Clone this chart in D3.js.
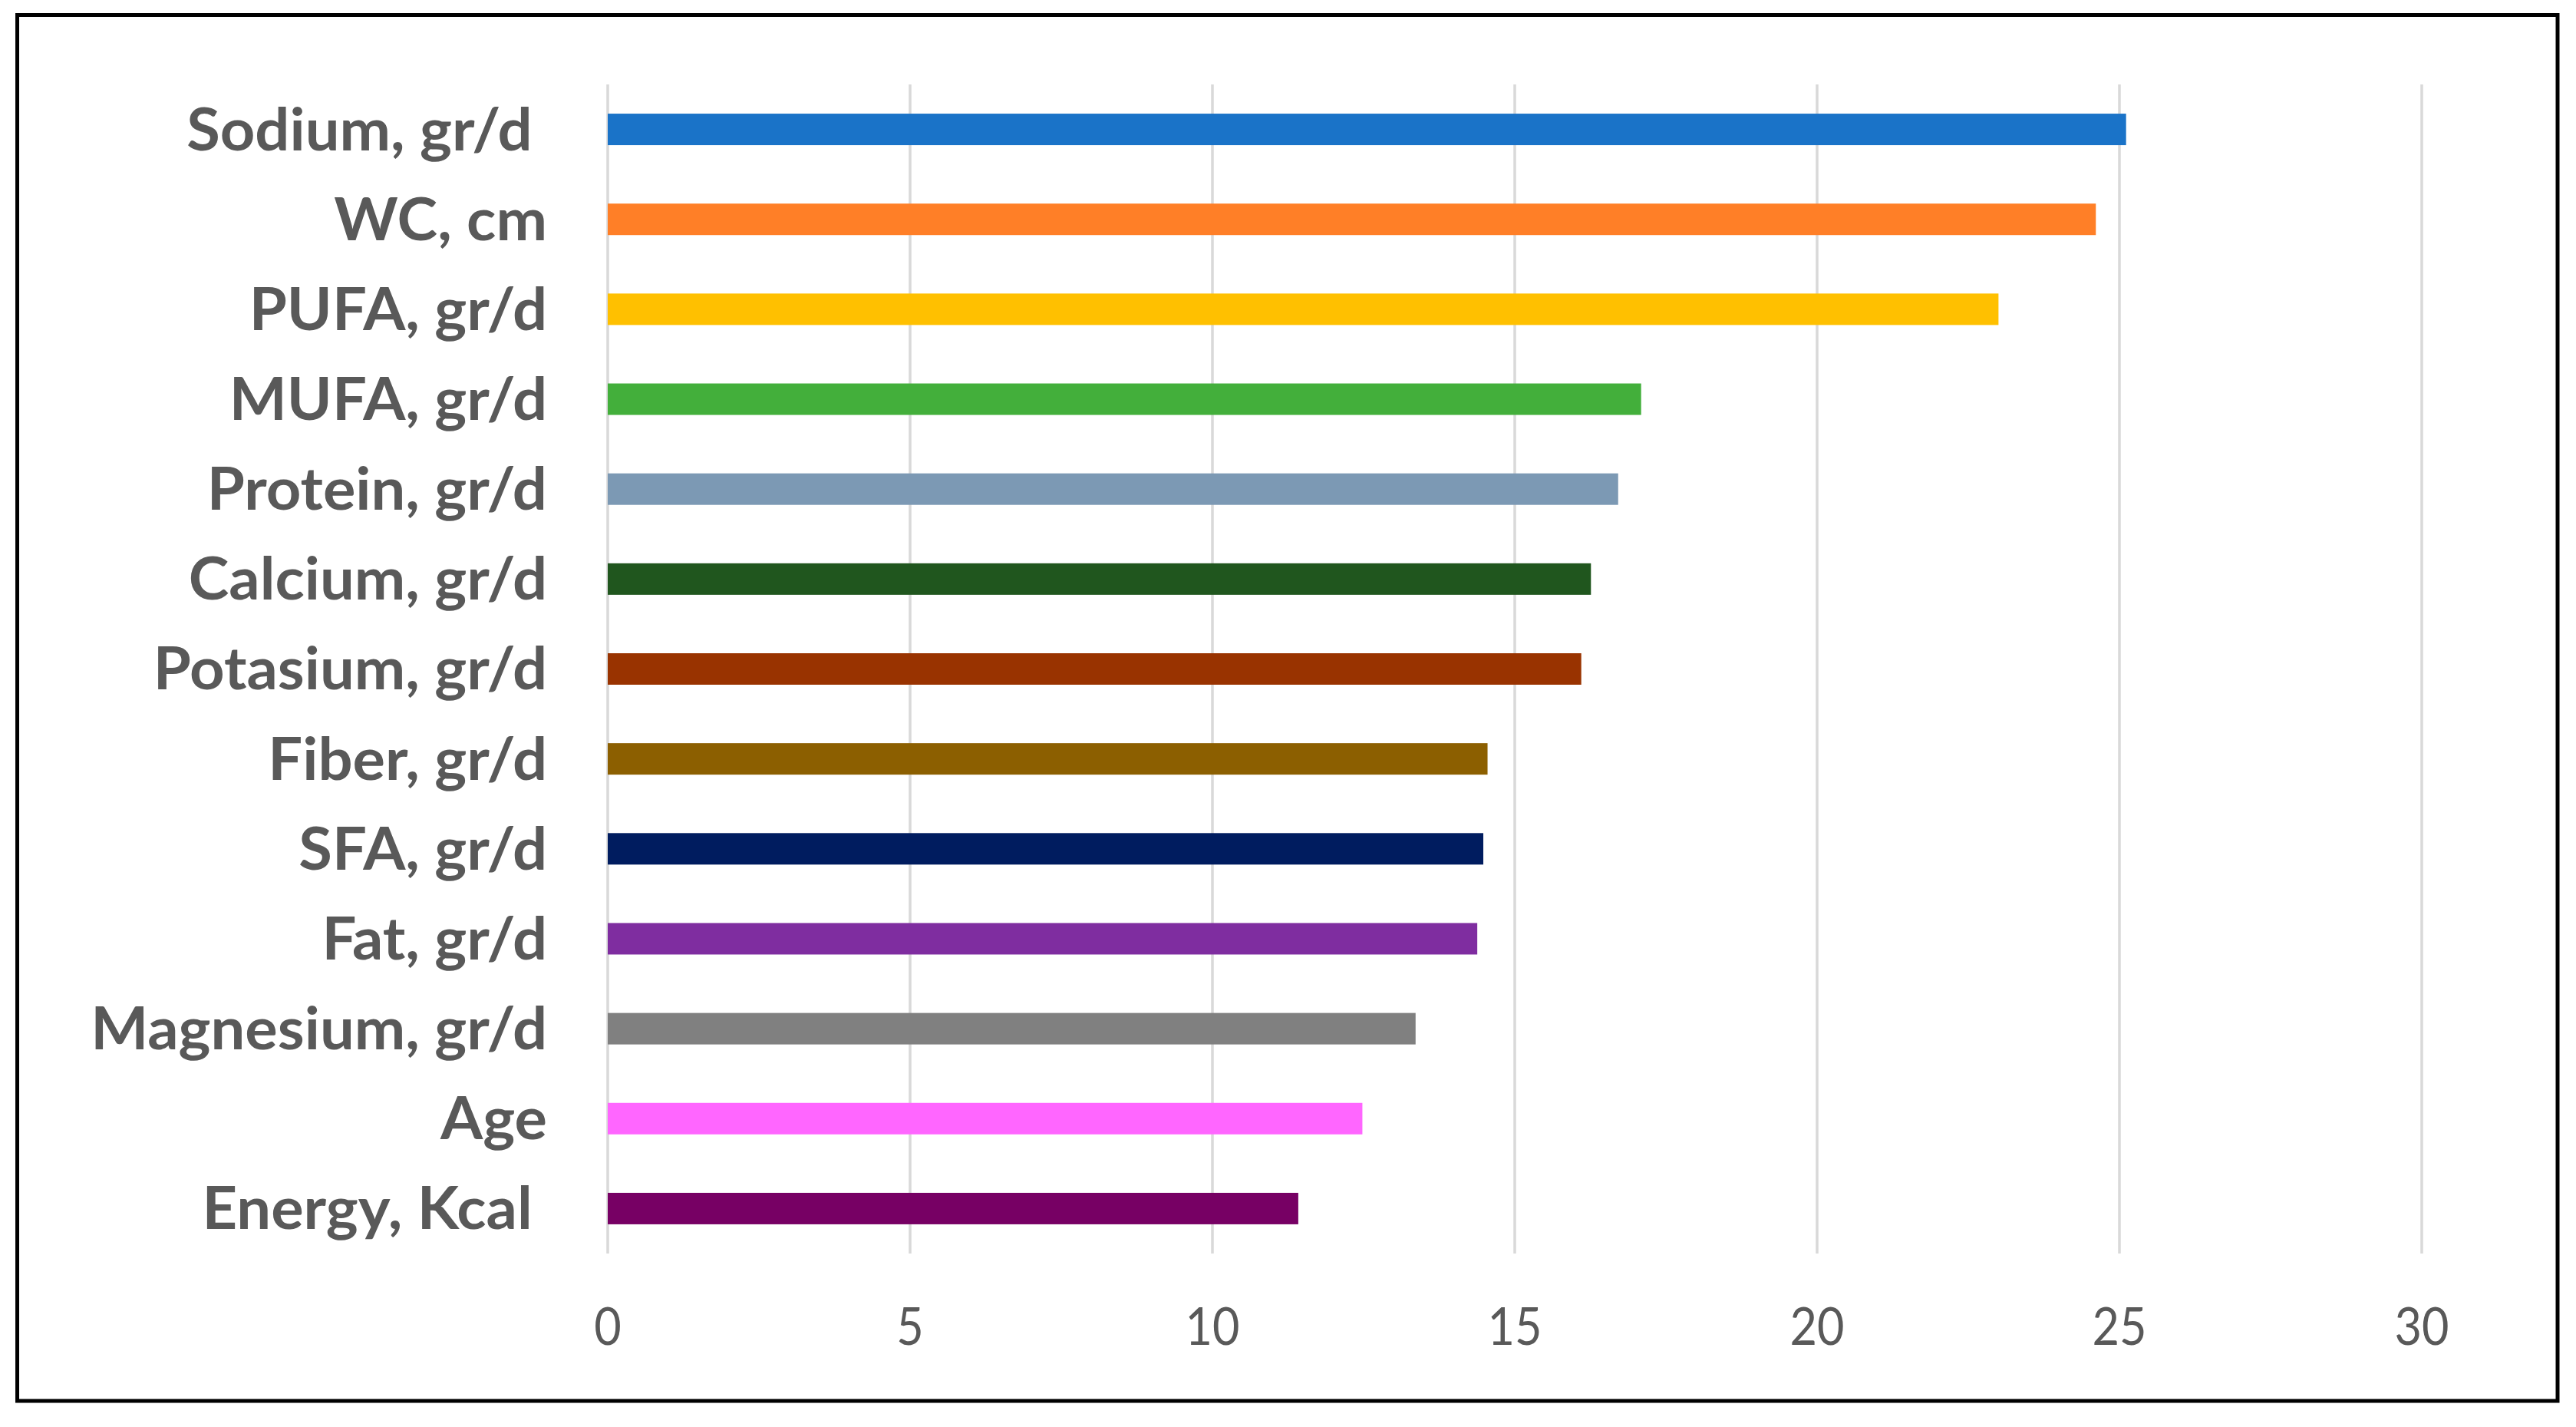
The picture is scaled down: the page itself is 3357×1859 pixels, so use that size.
<!DOCTYPE html>
<html>
<head>
<meta charset="utf-8">
<script src="https://cdn.jsdelivr.net/npm/d3@7"></script>
<style>
  html, body { margin: 0; padding: 0; background: #ffffff; }
  svg { display: block; }
</style>
</head>
<body>
<script>
const categories = ["Sodium, gr/d ", "WC, cm", "PUFA, gr/d", "MUFA, gr/d", "Protein, gr/d", "Calcium, gr/d",
  "Potasium, gr/d", "Fiber, gr/d", "SFA, gr/d", "Fat, gr/d", "Magnesium, gr/d", "Age", "Energy, Kcal "];
const values = [25.11, 24.61, 23.0, 17.09, 16.71, 16.26, 16.10, 14.55, 14.48, 14.38, 13.36, 12.48, 11.42];
const colors = ["#1A73C8", "#FF7F27", "#FFC000", "#43AF3B", "#7C99B4", "#20561E",
  "#993300", "#8C5F00", "#001C5F", "#7F2DA0", "#808080", "#FF66FF", "#770064"];
const tickValues = [0, 5, 10, 15, 20, 25, 30];

const W = 3357, H = 1859;
const plot = { left: 792, right: 3156, top: 110, bottom: 1633 };

const svg = d3.select("body").append("svg").attr("width", W).attr("height", H);
svg.append("rect").attr("width", W).attr("height", H).attr("fill", "#ffffff");

const x = d3.scaleLinear().domain([0, 30]).range([plot.left, plot.right]);
const y = d3.scaleBand().domain(categories).range([plot.top, plot.bottom])
  .paddingInner(0.65).paddingOuter(0.325);

// gridlines
svg.append("g").selectAll("line").data(tickValues).join("line")
  .attr("x1", d => x(d)).attr("x2", d => x(d))
  .attr("y1", plot.top).attr("y2", plot.bottom)
  .attr("stroke", "#d9d9d9").attr("stroke-width", 3.5);

// bars
svg.append("g").selectAll("rect").data(values).join("rect")
  .attr("x", x(0))
  .attr("y", (d, i) => y(categories[i]))
  .attr("width", d => x(d) - x(0))
  .attr("height", y.bandwidth())
  .attr("fill", (d, i) => colors[i]);

// category labels
const labelFont = 77, labelRight = 713, targetMag = 595;
const lg = svg.append("g");
const labels = lg.selectAll("text").data(categories).join("text")
  .attr("text-anchor", "end")
  .attr("font-family", "Lato, 'Open Sans', sans-serif")
  .attr("font-weight", "bold")
  .attr("font-size", labelFont)
  .attr("fill", "#595959")
  .style("white-space", "pre")
  .attr("x", 0)
  .attr("y", d => y(d) + y.bandwidth() / 2 + 27)
  .text(d => d);
const magNode = labels.filter(d => d === "Magnesium, gr/d").node();
const magW = magNode.getComputedTextLength();
const sxL = magW > 0 ? targetMag / magW : 1;
lg.attr("transform", `translate(${labelRight},0) scale(${sxL},1)`);

// x axis tick labels
const tickFont = 68;
const tg = svg.append("g");
tickValues.forEach(t => {
  const g = tg.append("g").attr("transform", `translate(${x(t)},1752)`);
  g.append("text")
    .attr("text-anchor", "middle")
    .attr("font-family", "Lato, 'Open Sans', sans-serif")
    .attr("font-size", tickFont)
    .attr("fill", "#595959")
    .text(t);
});
const tenNode = tg.selectAll("text").filter(function() { return this.textContent === "10"; }).node();
const tenW = tenNode.getComputedTextLength();
const sxT = tenW > 0 ? 71 / tenW : 1;
tg.selectAll("text").attr("transform", `scale(${sxT},1)`);

// outer border
svg.append("rect")
  .attr("x", 22.5).attr("y", 19.5)
  .attr("width", 3333 - 22.5).attr("height", 1825 - 19.5)
  .attr("fill", "none").attr("stroke", "#000000").attr("stroke-width", 5);
</script>
</body>
</html>
